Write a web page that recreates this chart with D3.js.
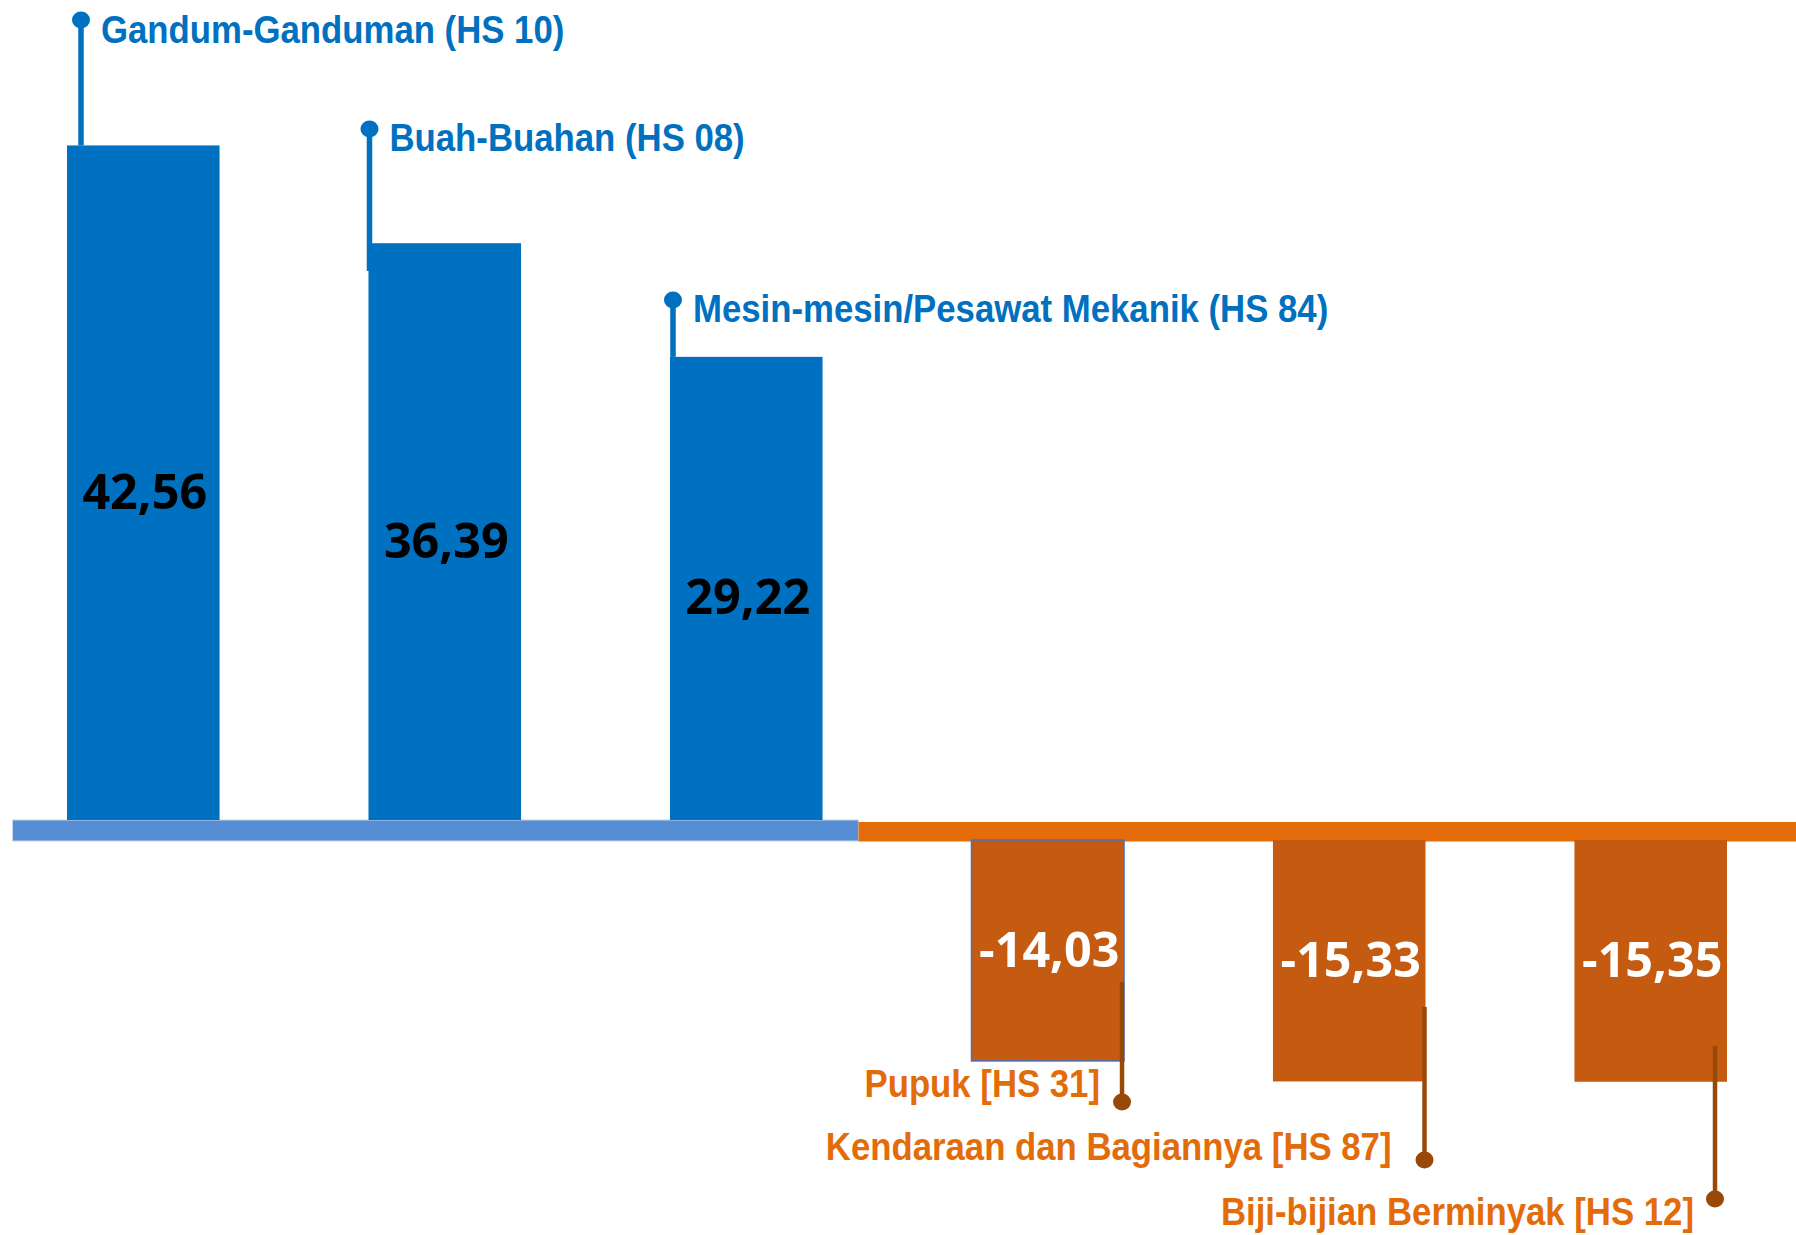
<!DOCTYPE html>
<html>
<head>
<meta charset="utf-8">
<script src="https://cdn.jsdelivr.net/npm/d3@7"></script>
<style>
  html, body { margin: 0; padding: 0; background: #fff; }
  svg { display: block; }
</style>
</head>
<body>
<svg id="chart" width="1796" height="1235"></svg>
<script>
// ---- data ----
const categories = [
  "Gandum-Ganduman (HS 10)",
  "Buah-Buahan (HS 08)",
  "Mesin-mesin/Pesawat Mekanik (HS 84)",
  "Pupuk [HS 31]",
  "Kendaraan dan Bagiannya [HS 87]",
  "Biji-bijian Berminyak [HS 12]"
];
const values = [42.56, 36.39, 29.22, -14.03, -15.33, -15.35];
const valueLabels = ["42,56", "36,39", "29,22", "-14,03", "-15,33", "-15,35"];

// ---- callout layout (pixels, separate from data) ----
const calloutDotY   = [20, 129, 300, 1102, 1160, 1199];
const calloutLineX  = [14, 1, 3, -2, -1, -12];   // offset from bar edge (left for +, right for -)
const calloutLineY2 = [null, 271, null, 982, 1007, 1046];
const calloutTextDx = [20, 20, 20, -22, -33, -21];
const calloutTextDy = [23, 22, 22, -5, 0, 26];

// ---- styles ----
const BLUE = "#0070C0", BLUE_BAND = "#558ED5";
const ORANGE_BAR = "#C55A11", ORANGE_BAND = "#E46C0A", ORANGE_TEXT = "#E36C0A", BROWN = "#984807";

const svg = d3.select("#chart");
const data = categories.map((c, i) => ({ cat: c, value: values[i], label: valueLabels[i], i }));

const x = d3.scaleBand().domain(categories).range([67, 1727]).paddingInner(0.494).paddingOuter(0);
const bw = x.bandwidth();
const yPos = d3.scaleLinear().domain([0, 45]).range([820, 820 - 45 * 15.85]);
const yNeg = d3.scaleLinear().domain([0, -20]).range([840, 840 + 20 * 15.75]);

const splitX = x(categories[2]) + bw + 36;

// baseline bands
svg.append("rect").attr("x", 12.5).attr("y", 820).attr("width", splitX - 12.5).attr("height", 21)
  .attr("fill", BLUE_BAND).attr("stroke", "#c8d4e8").attr("stroke-width", 1);
svg.append("rect").attr("x", splitX).attr("y", 822).attr("width", 1796 - splitX).attr("height", 19.5)
  .attr("fill", ORANGE_BAND);

// bars
svg.selectAll("rect.bar").data(data).join("rect")
  .attr("class", "bar")
  .attr("x", d => x(d.cat))
  .attr("width", bw)
  .attr("y", d => d.value >= 0 ? yPos(d.value) : yNeg(0))
  .attr("height", d => d.value >= 0 ? yPos(0) - yPos(d.value) : yNeg(d.value) - yNeg(0))
  .attr("fill", d => d.value >= 0 ? BLUE : ORANGE_BAR)
  .attr("stroke", d => d.i === 3 ? "#4472C4" : "none")
  .attr("stroke-width", 1.5);

// value labels
svg.selectAll("text.val").data(data).join("text")
  .attr("class", "val")
  .attr("x", d => x(d.cat) + bw / 2 + 1.5)
  .attr("y", d => d.value >= 0
      ? (yPos(d.value) + yPos(0)) / 2 + 26
      : (yNeg(0) + yNeg(d.value)) / 2 + 16.5)
  .attr("text-anchor", "middle")
  .attr("font-family", "'Open Sans', 'Noto Sans', sans-serif")
  .attr("font-weight", 700)
  .attr("font-size", 48.5)
  .attr("fill", d => d.value >= 0 ? "#000" : "#fff")
  .text(d => d.label);

// callouts
const callouts = svg.selectAll("g.callout").data(data).join("g").attr("class", "callout");
callouts.each(function(d) {
  const g = d3.select(this);
  const pos = d.value >= 0;
  const lx = pos ? x(d.cat) + calloutLineX[d.i] : x(d.cat) + bw + calloutLineX[d.i];
  const dotY = calloutDotY[d.i];
  const endY = calloutLineY2[d.i] != null ? calloutLineY2[d.i] : (pos ? yPos(d.value) : yNeg(d.value));
  const col = pos ? BLUE : BROWN;
  g.append("line").attr("x1", lx).attr("x2", lx).attr("y1", dotY).attr("y2", endY)
    .attr("stroke", col).attr("stroke-width", pos ? 5.5 : 4.5);
  g.append("ellipse").attr("cx", lx).attr("cy", dotY).attr("rx", 9).attr("ry", 8.5)
    .attr("fill", col);
  g.append("text")
    .attr("transform", `translate(${lx + calloutTextDx[d.i]},${dotY + calloutTextDy[d.i]}) scale(0.88,1)`)
    .attr("text-anchor", pos ? "start" : "end")
    .attr("font-family", "'Liberation Sans', Arial, sans-serif")
    .attr("font-weight", 700)
    .attr("font-size", 39.5)
    .attr("fill", pos ? BLUE : ORANGE_TEXT)
    .text(d.cat);
});
</script>
</body>
</html>
